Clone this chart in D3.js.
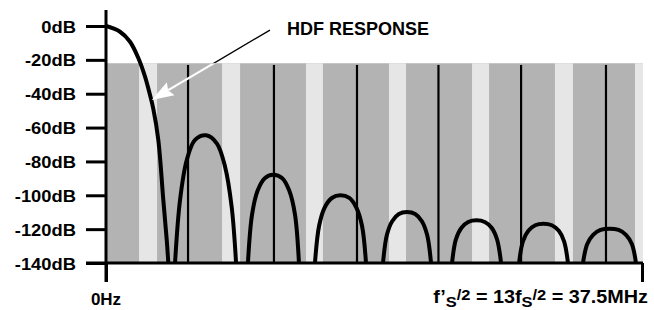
<!DOCTYPE html>
<html><head><meta charset="utf-8">
<script src="https://cdn.jsdelivr.net/npm/d3@7"></script>
<style>
html,body{margin:0;padding:0;background:#fff;}
svg{display:block;}
text{font-family:"Liberation Sans",Arial,Helvetica,sans-serif;font-weight:bold;fill:#000;}
</style>
</head><body>
<svg id="c" width="654" height="310"></svg>
<script>
// ---- data (frequency in MHz, level in dB) ----
const dbTicks = [0, -20, -40, -60, -80, -100, -120, -140];
const freqTicks = [0, 37.5];
const freqStart = "0Hz";
const annotationText = "HDF RESPONSE";
const annotationAt = [12.66, -5.3];
const arrowTail = [11.47, -2.4];
const arrowTip = [3.20, -43.7];
const shadedTop = -22;
const shadedEnd = 37.57;
const lightBands = [[2.31,3.57],[8.12,9.38],[13.99,15.18],[19.80,20.99],[25.61,26.80],[31.41,32.67],[37.01,37.57]];
const imageLines = [5.74, 11.75, 17.56, 23.26, 29.04, 34.98];
const imageLineTop = -23;
const mainLobe = [[0,0],[0.98,-3.4],[1.68,-9.3],[2.26,-18.9],[2.73,-29.9],[3.08,-40.8],[3.31,-49],[3.66,-67.3],[4.01,-102.8],[4.25,-126.4],[4.36,-140]];
const lobe1 = [[4.83,-140],[5.18,-102.8],[5.65,-79.2],[6.23,-67.3],[7.00,-64.6],[7.75,-69.3],[8.33,-83.1],[8.79,-106.7],[9.10,-140]];
const lobe2 = [[9.93,-140],[10.22,-111.3],[10.61,-97.2],[11.11,-89.9],[11.68,-87.9],[12.33,-89.9],[12.82,-97.2],[13.22,-111.3],[13.50,-140]];
const lobe3 = [[14.62,-140],[14.91,-118.0],[15.30,-107.2],[15.80,-101.6],[16.41,-100.0],[17.02,-101.6],[17.51,-107.2],[17.91,-118.0],[18.19,-140]];
const lobe4 = [[19.38,-140],[19.65,-123.5],[20.02,-115.3],[20.49,-111.0],[21.06,-109.9],[21.63,-111.0],[22.10,-115.3],[22.47,-123.5],[22.74,-140]];
const lobe5 = [[24.21,-140],[24.48,-126.1],[24.86,-119.3],[25.34,-115.8],[25.92,-114.8],[26.50,-115.8],[26.99,-119.3],[27.36,-126.1],[27.64,-140]];
const lobe6 = [[28.90,-140],[29.17,-127.2],[29.55,-121.0],[30.03,-117.7],[30.61,-116.8],[31.19,-117.7],[31.68,-121.0],[32.05,-127.2],[32.32,-140]];
const lobe7 = [[33.37,-140],[33.67,-128.8],[34.08,-123.4],[34.60,-120.5],[35.23,-119.7],[35.86,-120.5],[36.38,-123.4],[36.79,-128.8],[37.08,-140]];
const lobes = [mainLobe, lobe1, lobe2, lobe3, lobe4, lobe5, lobe6, lobe7];

// ---- layout ----
const svg = d3.select("#c");
const x = d3.scaleLinear().domain([0, 37.5]).range([106, 642]);
const y = d3.scaleLinear().domain([-140, 0]).range([263, 26]);
const tickLen = 20, xTickLen = 19, labelStretch = 1.08;

const defs = svg.append("defs");
defs.append("clipPath").attr("id","plotClip").append("rect")
  .attr("x", x(0)).attr("y", 0).attr("width", x(shadedEnd) - x(0)).attr("height", y(-140));
defs.append("clipPath").attr("id","shadeClip").append("rect")
  .attr("x", x(0)).attr("y", y(shadedTop)).attr("width", x(shadedEnd) - x(0)).attr("height", y(-140) - y(shadedTop));

// shaded region
svg.append("rect").attr("x", x(0)).attr("y", y(shadedTop))
  .attr("width", x(shadedEnd) - x(0)).attr("height", y(-140) - y(shadedTop)).attr("fill", "#b3b3b3");
svg.append("g").selectAll("rect").data(lightBands).join("rect")
  .attr("x", d => x(d[0])).attr("y", y(shadedTop))
  .attr("width", d => x(d[1]) - x(d[0])).attr("height", y(-140) - y(shadedTop)).attr("fill", "#e6e6e6");

// image lines
svg.append("g").selectAll("line").data(imageLines).join("line")
  .attr("x1", d => x(d)).attr("x2", d => x(d)).attr("y1", y(imageLineTop)).attr("y2", y(-140))
  .attr("stroke", "#000").attr("stroke-width", 2.2);

// response curve
const line = d3.line().x(d => x(d[0])).y(d => y(d[1])).curve(d3.curveCatmullRom.alpha(0.5));
svg.append("g").attr("clip-path", "url(#plotClip)").selectAll("path").data(lobes).join("path")
  .attr("d", line).attr("fill", "none").attr("stroke", "#000").attr("stroke-width", 4);

// axes
const yAxis = d3.axisLeft(y).tickValues(dbTicks).tickFormat(d => d + "dB").tickSize(tickLen);
const gy = svg.append("g").attr("transform", `translate(${x(0)},0)`).call(yAxis);
gy.select(".domain").remove();
gy.selectAll(".tick line").attr("stroke", "#000").attr("stroke-width", 3);
gy.selectAll(".tick text").attr("font-size", 17).attr("font-family", null)
  .attr("x", -30 / labelStretch).attr("dy", "0.36em").attr("transform", `scale(${labelStretch},1)`);

const xAxis = d3.axisBottom(x).tickValues(freqTicks).tickSize(xTickLen).tickFormat("");
const gx = svg.append("g").attr("transform", `translate(0,${y(-140)})`).call(xAxis);
gx.select(".domain").remove();
gx.selectAll(".tick line").attr("stroke", "#000").attr("stroke-width", 3);

// axis lines
svg.append("line").attr("x1", x(0)).attr("x2", x(0)).attr("y1", y(9.5)).attr("y2", y(-140) + xTickLen)
  .attr("stroke", "#000").attr("stroke-width", 3);
svg.append("line").attr("x1", x(0) - tickLen).attr("x2", x(shadedEnd)).attr("y1", y(-140)).attr("y2", y(-140))
  .attr("stroke", "#000").attr("stroke-width", 3);

// x labels
svg.append("text").attr("x", x(freqTicks[0])).attr("y", 305).attr("text-anchor", "middle")
  .attr("font-size", 17).text(freqStart);
const rl = svg.append("g").attr("transform", `translate(${x(freqTicks[1]) + 6},303)`)
  .append("text").attr("x", 0).attr("y", 0).attr("text-anchor", "end").attr("font-size", 18)
  .attr("transform", "scale(1.1,1)");
// [text, font size, vertical shift relative to previous piece]
const parts = [["f\u2019",18,0],["S",15,4],["/2",15,-7],[" = 13f",18,3],["S",15,4],["/2",15,-7],[" = 37.5MHz",18,3]];
parts.forEach(p => rl.append("tspan").attr("font-size", p[1]).attr("dy", p[2]).text(p[0]));

// annotation
svg.append("text").attr("x", x(annotationAt[0])).attr("y", y(annotationAt[1])).attr("font-size", 18).text(annotationText);
const tx = x(arrowTail[0]), ty = y(arrowTail[1]), px = x(arrowTip[0]), py = y(arrowTip[1]);
const len = Math.hypot(tx - px, ty - py), ux = (tx - px) / len, uy = (ty - py) / len;
const headL = 22, headW = 7.5;
const bx = px + ux * (headL - 3), by = py + uy * (headL - 3);
svg.append("line").attr("x1", tx).attr("y1", ty).attr("x2", bx).attr("y2", by).attr("stroke", "#000").attr("stroke-width", 1.4);
svg.append("line").attr("clip-path", "url(#shadeClip)").attr("x1", tx).attr("y1", ty).attr("x2", bx).attr("y2", by)
  .attr("stroke", "#fff").attr("stroke-width", 2.2);
const head = [[px, py],
  [px + ux * headL - uy * headW, py + uy * headL + ux * headW],
  [bx, by],
  [px + ux * headL + uy * headW, py + uy * headL - ux * headW]];
svg.append("path").attr("d", "M" + head.map(p => p.join(",")).join("L") + "Z").attr("fill", "#fff");
</script>
</body></html>
